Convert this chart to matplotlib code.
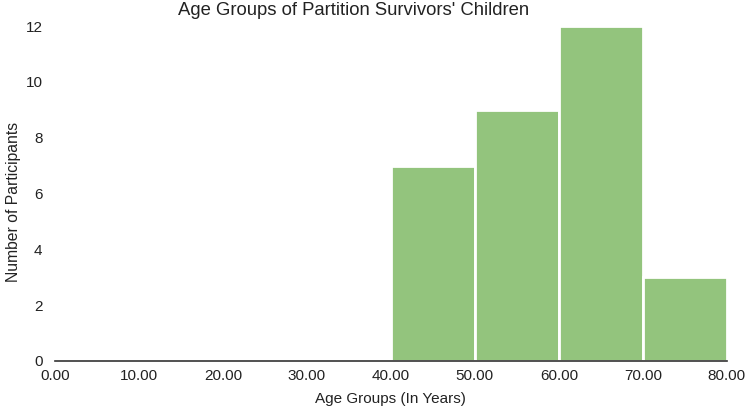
"""Histogram of age groups of partition survivors' children"""

from matplotlib import pyplot as plt
from matplotlib.ticker import FormatStrFormatter

# data
bin_edges = [0, 10, 20, 30, 40, 50, 60, 70, 80]
counts = [0, 0, 0, 0, 7, 9, 12, 3]
y_ticks = [0, 2, 4, 6, 8, 10, 12]

plt.rcParams["font.family"] = ["Liberation Sans", "DejaVu Sans"]
plt.rcParams["font.size"] = 11

fig = plt.figure(figsize=(7.49, 4.11), dpi=100)
ax = fig.add_axes([0.0734, 0.1217, 0.897, 0.815])

widths = [b - a for a, b in zip(bin_edges[:-1], bin_edges[1:])]
ax.bar(
    bin_edges[:-1],
    counts,
    width=widths,
    align="edge",
    color="#93c47d",
    edgecolor="white",
    linewidth=2,
)

ax.set_xlim(0, 80)
ax.set_ylim(0, 12)
ax.set_xticks(bin_edges)
ax.xaxis.set_major_formatter(FormatStrFormatter("%.2f"))
ax.set_yticks(y_ticks)

for side in ["top", "right", "left"]:
    ax.spines[side].set_visible(False)
ax.spines["bottom"].set_color("#333333")
ax.spines["bottom"].set_linewidth(1.2)
ax.tick_params(axis="both", length=0, labelsize=11, colors="#222222")
ax.tick_params(axis="x", pad=6)
ax.tick_params(axis="y", pad=9)

# title sits a little left of the plot centre, as in the original
fig.text(0.4726, 0.995, "Age Groups of Partition Survivors' Children",
         fontsize=13.3, color="#222222", ha="center", va="top")
ax.set_xlabel("Age Groups (In Years)", fontsize=11, color="#222222", labelpad=6)
ax.set_ylabel("Number of Participants", fontsize=11.3, color="#222222")
ax.yaxis.set_label_coords(-0.05, 0.475)

fig.savefig("out.png", dpi=100)
plt.close()
